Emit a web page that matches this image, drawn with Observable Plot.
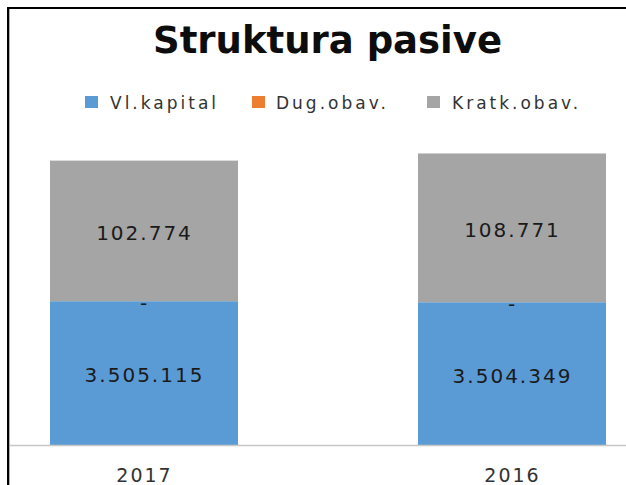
<!DOCTYPE html>
<html>
<head>
<meta charset="utf-8">
<script src="https://cdn.jsdelivr.net/npm/d3@7"></script>
<script src="https://cdn.jsdelivr.net/npm/@observablehq/plot@0.6"></script>
<style>
  html, body { margin: 0; padding: 0; background: #fff; }
  #wrap { position: relative; width: 626px; height: 485px; overflow: hidden; background: #fff; }
  #chart { position: absolute; left: 0; top: 0; }
  .bl { position: absolute; left: 7px; top: 7px; width: 2px; height: 478px; background: #000; }
  .bl2 { position: absolute; left: 9px; top: 9px; width: 1px; height: 476px; background: #b0b0b0; }
  .bt { position: absolute; left: 7px; top: 7px; width: 619px; height: 2px; background: #000; }
  #title { position: absolute; left: 0; width: 655px; top: 21.7px; text-align: center;
    font: bold 37px/37px "DejaVu Sans", sans-serif; color: #0d0d0d; white-space: nowrap; }
  .sw { position: absolute; top: 96px; width: 13px; height: 12px; }
  .lt { position: absolute; top: 94.6px; font: 17px/17px "DejaVu Sans", sans-serif; letter-spacing: 3px;
    color: #333; white-space: nowrap; }
</style>
</head>
<body>
<div id="wrap">
  <div id="chart"></div>
  <div class="bl"></div>
  <div class="bl2"></div>
  <div class="bt"></div>
  <div id="title">Struktura pasive</div>
  <div id="legend"></div>
</div>
<script>
const years = ["2017", "2016"];
const series = ["Vl.kapital", "Dug.obav.", "Kratk.obav."];
const vlKapital = [3505115, 3504349];
const dugObav = [0, 0];
const kratkObav = [102774, 108771];
const colors = ["#5B9BD5", "#ED7D31", "#A5A5A5"];
const yMin = 3400000;
const yMax = 3650000;

const seriesValues = [vlKapital, dugObav, kratkObav];
const data = [];
years.forEach((yr, i) => {
  let cum = 0;
  series.forEach((s, j) => {
    const v = seriesValues[j][i];
    const lo = Math.max(cum, yMin);
    const hi = cum + v;
    data.push({year: yr, series: s, value: v, mid: (lo + hi) / 2});
    cum += v;
  });
});

const loc = d3.formatLocale({decimal: ",", thousands: ".", grouping: [3], currency: ["", ""]});
const fmt = loc.format(",d");

const chart = Plot.plot({
  width: 626,
  height: 485,
  marginLeft: 9,
  marginRight: 0,
  marginTop: 103,
  marginBottom: 40,
  x: {domain: years, range: [49, 606], paddingInner: 0.49, paddingOuter: 0, label: null},
  y: {domain: [yMin, yMax], range: [445, 103], axis: null},
  color: {domain: series, range: colors},
  style: {fontFamily: "DejaVu Sans, sans-serif", background: "transparent", overflow: "visible"},
  marks: [
    Plot.barY(data, {x: "year", y: "value", fill: "series", order: null, clip: true, inset: 0}),
    Plot.ruleY([yMin], {stroke: "#c6c6c6", strokeWidth: 1.5}),
    Plot.text(data, {x: "year", y: "mid", text: d => d.value === 0 ? "-" : fmt(d.value),
      fill: "#1a1a1a", fontSize: 20, dy: 2}),
    Plot.axisX({tickSize: 0, tickPadding: 23, fontSize: 19, fill: "#333", label: null})
  ]
});
chart.querySelectorAll("text").forEach(t => t.style.letterSpacing = "2px");
document.getElementById("chart").appendChild(chart);

// legend
const legend = document.getElementById("legend");
const swLeft = [85, 252, 427];
const txLeft = [110, 276, 452];
series.forEach((s, j) => {
  const sw = document.createElement("div");
  sw.className = "sw"; sw.style.left = swLeft[j] + "px"; sw.style.background = colors[j];
  const tx = document.createElement("div");
  tx.className = "lt"; tx.style.left = txLeft[j] + "px"; tx.textContent = s;
  legend.appendChild(sw); legend.appendChild(tx);
});
</script>
</body>
</html>
